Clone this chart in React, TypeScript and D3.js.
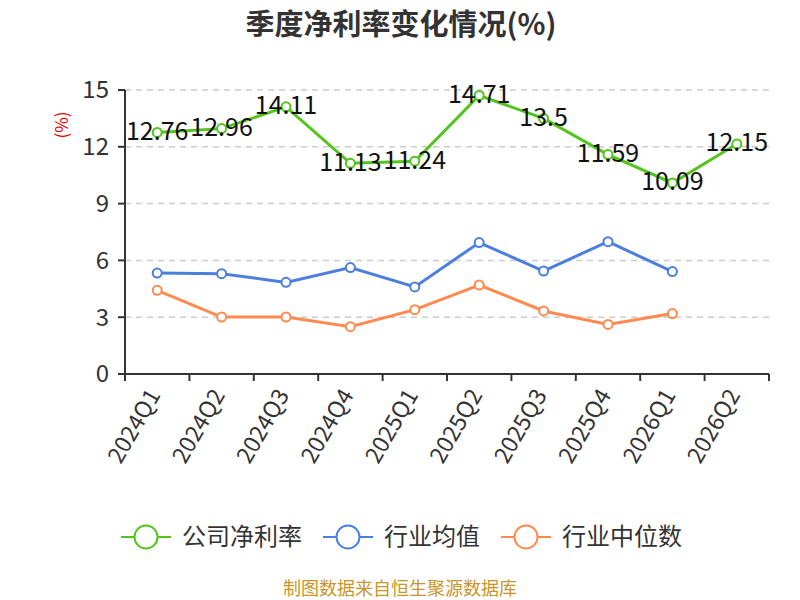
import React from "react";
import * as d3 from "d3";

const categories = ["2024Q1","2024Q2","2024Q3","2024Q4","2025Q1","2025Q2","2025Q3","2025Q4","2026Q1","2026Q2"];
const companyNet = [12.76, 12.96, 14.11, 11.13, 11.24, 14.71, 13.5, 11.59, 10.09, 12.15];
const industryAvg = [5.33, 5.3, 4.84, 5.62, 4.6, 6.94, 5.44, 6.99, 5.41, null];
const industryMedian = [4.42, 3.01, 3.01, 2.5, 3.4, 4.7, 3.33, 2.62, 3.19, null];
const yTicks = [0, 3, 6, 9, 12, 15];
const seriesNames = ["公司净利率", "行业均值", "行业中位数"];
const colors = ["#52c41a", "#4a7fe0", "#ff8a50"];

export default function App() {
  const W = 800, H = 600;
  const left = 125, right = 769, top = 90, bottom = 374;
  const x = d3.scaleBand().domain(categories).range([left, right]);
  const y = d3.scaleLinear().domain([0, 15]).range([bottom, top]);
  const cx = (c: string) => (x(c) as number) + x.bandwidth() / 2;
  const font = "'Noto Sans CJK SC', 'Noto Sans', sans-serif";
  const series = [companyNet, industryAvg, industryMedian];
  const line = d3.line<any>()
    .defined((d) => d[1] != null)
    .x((d) => cx(d[0]))
    .y((d) => y(d[1]));

  return (
    <svg width={W} height={H} style={{ position: "absolute", left: 0, top: 0, fontFamily: font }}>
      <rect width={W} height={H} fill="#fff" />
      <text x={401} y={35} textAnchor="middle" fontSize={29} fontWeight="bold" fill="#333">季度净利率变化情况(%)</text>
      <text transform={`translate(68,125) rotate(-90)`} textAnchor="middle" fontSize={17} fill="#e00">(%)</text>
      {yTicks.map((t) => (
        <g key={t}>
          {t > 0 && <line x1={left} x2={right} y1={y(t)} y2={y(t)} stroke="#ccc" strokeWidth={1.5} strokeDasharray="6,5" />}
          <line x1={left - 7} x2={left} y1={y(t)} y2={y(t)} stroke="#333" strokeWidth={2} />
          <text x={left - 16} y={y(t)} dy="0.35em" textAnchor="end" fontSize={24} fill="#333">{t}</text>
        </g>
      ))}
      <line x1={left} x2={left} y1={top} y2={bottom} stroke="#333" strokeWidth={2} />
      <line x1={left} x2={right} y1={bottom} y2={bottom} stroke="#333" strokeWidth={2} />
      {categories.map((c, i) => (
        <line key={"t" + i} x1={x(c) as number} x2={x(c) as number} y1={bottom} y2={bottom + 7} stroke="#333" strokeWidth={2} />
      ))}
      <line x1={right} x2={right} y1={bottom} y2={bottom + 7} stroke="#333" strokeWidth={2} />
      {categories.map((c) => (
        <text key={"l" + c} transform={`translate(${cx(c) - 3},${bottom + 17}) rotate(-60)`} textAnchor="end" dy="0.35em" fontSize={23} fill="#333">{c}</text>
      ))}
      {series.map((s, si) => {
        const pts = categories.map((c, i) => [c, s[i]]);
        return (
          <g key={"s" + si}>
            <path d={line(pts) as string} fill="none" stroke={colors[si]} strokeWidth={3} />
            {pts.filter((p) => p[1] != null).map((p, i) => (
              <circle key={i} cx={cx(p[0] as string)} cy={y(p[1] as number)} r={4.5} fill="#fff" stroke={colors[si]} strokeWidth={2} />
            ))}
          </g>
        );
      })}
      {categories.map((c, i) => (
        <text key={"v" + c} x={cx(c)} y={y(companyNet[i])} dy="0.3em" textAnchor="middle" fontSize={25} fill="#111">{companyNet[i]}</text>
      ))}
      {seriesNames.map((n, i) => {
        const lx = [121, 323, 501][i];
        const ly = 537;
        return (
          <g key={"lg" + i}>
            <line x1={lx} x2={lx + 50} y1={ly} y2={ly} stroke={colors[i]} strokeWidth={2} />
            <circle cx={lx + 25} cy={ly} r={11.5} fill="#fff" stroke={colors[i]} strokeWidth={2} />
            <text x={lx + 61} y={ly} dy="0.35em" fontSize={24} fill="#333">{n}</text>
          </g>
        );
      })}
      <text x={400} y={595} textAnchor="middle" fontSize={18} fill="#c8952a">制图数据来自恒生聚源数据库</text>
    </svg>
  );
}
